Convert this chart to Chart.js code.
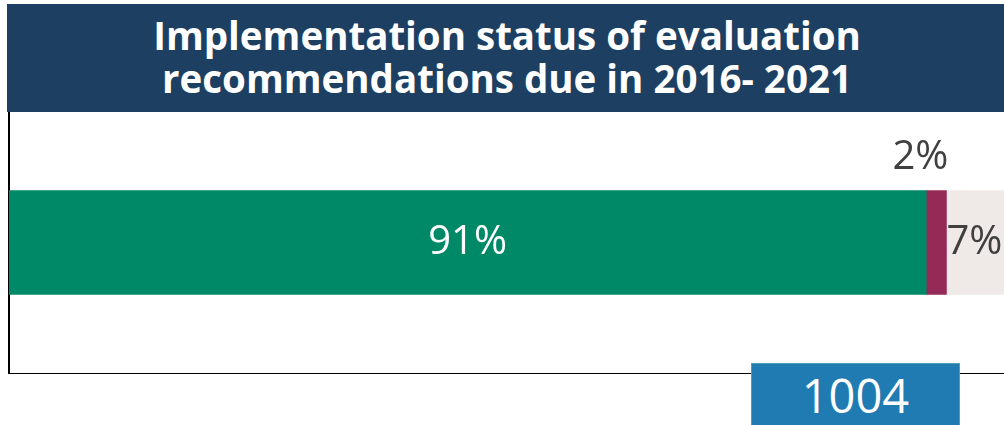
<!DOCTYPE html>
<html>
<head>
<meta charset="utf-8">
<script src="https://cdn.jsdelivr.net/npm/chart.js@4"></script>
<style>
  html, body { margin: 0; padding: 0; background: #fff; overflow: hidden; width: 1004px; height: 425px; }
  body { position: relative; font-family: "Open Sans", sans-serif; }
  #banner {
    position: absolute; left: 7px; top: 4px; width: 1000px; height: 108px; z-index: 2;
    background: #1d3f61; color: #fff; font-weight: bold; font-size: 38.5px;
    line-height: 43px; text-align: center; padding-top: 10px; box-sizing: border-box;
  }
  #wrap { position: absolute; left: 0; top: 111px; width: 1017px; height: 263px; }
  #count {
    position: absolute; left: 751px; top: 363px; width: 209px; height: 70px; z-index: 2;
    background: #1f7bb1; border: 1px solid #4f9fb0; box-sizing: border-box;
    color: #fff; font-size: 47px; text-align: center; line-height: 62px;
  }
</style>
</head>
<body>
<div id="banner">Implementation status of evaluation<br>recommendations due in 2016- 2021</div>
<div id="wrap"><canvas id="chart"></canvas></div>
<div id="count">1004</div>
<script>
"use strict";

var categories = ["Recommendations"];
var seriesLabels = ["Implemented", "Partially implemented", "Not implemented"];
var seriesValues = [[91], [2], [7]];
var seriesColors = ["#008967", "#952a56", "#efeae7"];

// value labels: first one inside, second above the thin bar, third to its right
var labelPlugin = {
  id: "valueLabels",
  afterDatasetsDraw: function (chart) {
    var ctx = chart.ctx;
    ctx.save();
    ctx.font = "40px 'Open Sans'";
    ctx.textBaseline = "middle";
    chart.data.datasets.forEach(function (ds, i) {
      var bar = chart.getDatasetMeta(i).data[0];
      var txt = ds.data[0] + "%";
      if (i === 0) {
        ctx.fillStyle = "#ffffff";
        ctx.textAlign = "center";
        ctx.fillText(txt, (bar.x + bar.base) / 2, bar.y);
      } else if (i === 1) {
        ctx.fillStyle = "#404040";
        ctx.textAlign = "right";
        ctx.fillText(txt, bar.x + 2, bar.y - bar.height / 2 - 33);
      } else {
        ctx.fillStyle = "#404040";
        ctx.textAlign = "left";
        ctx.fillText(txt, bar.base, bar.y);
      }
    });
    ctx.restore();
  }
};

new Chart(document.getElementById("chart"), {
  type: "bar",
  data: {
    labels: categories,
    datasets: seriesLabels.map(function (l, i) {
      return {
        label: l,
        data: seriesValues[i],
        backgroundColor: seriesColors[i],
        borderWidth: 0,
        barThickness: 104,
      };
    }),
  },
  options: {
    indexAxis: "y",
    responsive: true, maintainAspectRatio: false,
    animation: false,
    layout: { padding: { left: 9, top: 0, right: 0, bottom: 0 } },
    scales: {
      x: {
        stacked: true, min: 0, max: 100,
        grid: { display: false, drawTicks: false },
        ticks: { display: false },
        border: { display: true, color: "#000000", width: 2 },
      },
      y: {
        stacked: true,
        grid: { display: false, drawTicks: false },
        ticks: { display: false },
        border: { display: true, color: "#000000", width: 2 },
      },
    },
    plugins: {
      legend: { display: false },
      tooltip: { enabled: false },
    },
  },
  plugins: [labelPlugin],
});
</script>
</body>
</html>
